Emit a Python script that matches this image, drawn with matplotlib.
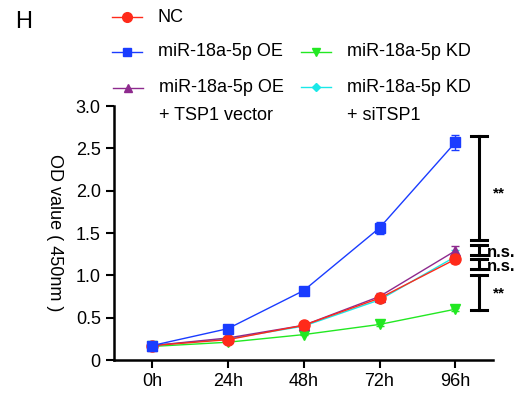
import matplotlib.pyplot as plt
from matplotlib.lines import Line2D

plt.rcParams['font.family'] = ['Liberation Sans', 'DejaVu Sans']

# Time points and OD readings for each group
times = ['0h', '24h', '48h', '72h', '96h']
nc = [0.17, 0.24, 0.41, 0.73, 1.19]
nc_err = [0.01, 0.01, 0.02, 0.03, 0.04]
oe = [0.17, 0.37, 0.82, 1.56, 2.57]
oe_err = [0.01, 0.02, 0.03, 0.07, 0.09]
kd = [0.16, 0.21, 0.30, 0.42, 0.60]
kd_err = [0.01, 0.01, 0.01, 0.02, 0.02]
oe_vec = [0.17, 0.26, 0.41, 0.75, 1.29]
oe_vec_err = [0.01, 0.01, 0.02, 0.04, 0.06]
kd_si = [0.17, 0.25, 0.40, 0.71, 1.22]
kd_si_err = [0.01, 0.01, 0.02, 0.03, 0.08]

# significance brackets (top, bottom, label, label y)
brackets = [(2.65, 1.42, '**', 1.97), (1.36, 1.24, 'n.s.', 1.27),
            (1.19, 1.08, 'n.s.', 1.11), (1.00, 0.59, '**', 0.78)]

c_nc = '#ff2a1a'
c_oe = '#1a3cff'
c_kd = '#22e822'
c_vec = '#8e2a8e'
c_si = '#1ae8e8'

fig = plt.figure(figsize=(5.29, 3.95), dpi=100)
ax = fig.add_axes([0.2155, 0.0886, 0.717, 0.643])
x = list(range(len(times)))

def plot_group(vals, err, color, marker, ms):
    ax.errorbar(x, vals, yerr=err, color=color, marker=marker, markersize=ms,
                lw=1.0, elinewidth=1.0, capsize=3, capthick=1.0)

plot_group(kd, kd_err, c_kd, 'v', 7)
plot_group(kd_si, kd_si_err, c_si, 'D', 4)
plot_group(oe_vec, oe_vec_err, c_vec, '^', 7)
plot_group(nc, nc_err, c_nc, 'o', 8)
plot_group(oe, oe_err, c_oe, 's', 7)

# significance brackets
bx = 4.31
for top, bot, lab, ly in brackets:
    ax.plot([bx, bx], [bot, top], color='black', lw=2.2, clip_on=False)
    ax.plot([bx - 0.11, bx + 0.11], [top, top], color='black', lw=2.2, clip_on=False)
    ax.plot([bx - 0.11, bx + 0.11], [bot, bot], color='black', lw=2.2, clip_on=False)
    if lab == '**':
        ax.text(bx + 0.19, ly, lab, fontsize=11, fontweight='bold', va='center', clip_on=False)
    else:
        ax.text(bx + 0.11, ly, lab, fontsize=12, fontweight='bold', va='center', clip_on=False)

ax.set_xlim(-0.5, 4.5)
ax.set_ylim(0, 3.0)
ax.set_xticks(x)
ax.set_xticklabels(times)
ax.set_yticks([0, 0.5, 1.0, 1.5, 2.0, 2.5, 3.0])
ax.set_yticklabels(['0', '0.5', '1.0', '1.5', '2.0', '2.5', '3.0'])
ax.tick_params(labelsize=13, width=1.5, length=6)
for s in ['top', 'right']:
    ax.spines[s].set_visible(False)
for s in ['left', 'bottom']:
    ax.spines[s].set_linewidth(1.8)
ax.set_ylabel('OD value ( 450nm )', fontsize=13, rotation=270, va='center')
ax.yaxis.set_label_coords(-0.157, 0.5)

# legend drawn by hand above the axes
def leg(xh, yh, color, marker, ms, label, label2=None):
    fig.add_artist(Line2D([xh - 15 / 529, xh + 15 / 529], [yh, yh], color=color, lw=1.0,
                          transform=fig.transFigure))
    fig.add_artist(Line2D([xh], [yh], color=color, marker=marker, markersize=ms,
                          transform=fig.transFigure))
    fig.text(xh + 31 / 529, yh, label, fontsize=13, va='center')
    if label2:
        fig.text(xh + 31 / 529, yh - 28 / 395, label2, fontsize=13, va='center')

leg(127 / 529, 1 - 17 / 395, c_nc, 'o', 7, 'NC')
leg(127 / 529, 1 - 52 / 395, c_oe, 's', 6, 'miR-18a-5p OE')
leg(128 / 529, 1 - 88 / 395, c_vec, '^', 6, 'miR-18a-5p OE', '+ TSP1 vector')
leg(316 / 529, 1 - 52 / 395, c_kd, 'v', 6, 'miR-18a-5p KD')
leg(316 / 529, 1 - 87 / 395, c_si, 'D', 4, 'miR-18a-5p KD', '+ siTSP1')

fig.text(15 / 529, 1 - 22 / 395, 'H', fontsize=17, va='center')

fig.savefig('out.png', dpi=100)
